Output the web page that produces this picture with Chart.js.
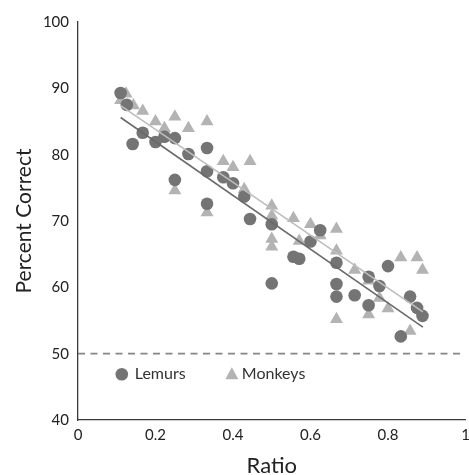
<!DOCTYPE html>
<html>
<head>
<meta charset="utf-8">
<script src="https://cdn.jsdelivr.net/npm/chart.js@4"></script>
<style>
  body { margin: 0; background: #fff; }
  #wrap { width: 469px; height: 475px; }
</style>
</head>
<body>
<div id="wrap"><canvas id="ratioChart" width="469" height="475"></canvas></div>
<script>
// values
const lemurRatio = [0.11, 0.126, 0.141, 0.167, 0.2, 0.223, 0.25, 0.25, 0.285, 0.333, 0.333, 0.333,
  0.375, 0.4, 0.429, 0.444, 0.5, 0.5, 0.556, 0.571, 0.6, 0.625, 0.667, 0.667, 0.667,
  0.714, 0.75, 0.75, 0.778, 0.8, 0.833, 0.857, 0.875, 0.889];
const lemurCorrect = [89.3, 87.5, 81.6, 83.3, 81.9, 82.7, 82.5, 76.2, 80.1, 81.0, 77.5, 72.6,
  76.6, 75.7, 73.7, 70.3, 69.5, 60.6, 64.6, 64.3, 66.9, 68.6, 63.7, 60.5, 58.6,
  58.8, 61.6, 57.3, 60.2, 63.2, 52.6, 58.6, 56.9, 55.7];

const monkeyRatio = [0.11, 0.124, 0.143, 0.167, 0.2, 0.223, 0.25, 0.25, 0.285, 0.333, 0.333,
  0.375, 0.4, 0.429, 0.444, 0.5, 0.5, 0.5, 0.5, 0.556, 0.571, 0.6, 0.625, 0.667, 0.667, 0.667,
  0.714, 0.75, 0.75, 0.778, 0.8, 0.833, 0.857, 0.875, 0.889];
const monkeyCorrect = [88.2, 89.2, 87.4, 86.6, 85.0, 84.0, 85.7, 74.6, 84.0, 85.0, 71.3,
  79.0, 78.1, 74.8, 79.0, 72.3, 70.8, 67.3, 66.1, 70.4, 67.0, 69.5, 67.8, 68.8, 65.5, 55.2,
  62.6, 61.0, 55.9, 58.4, 56.8, 64.5, 53.4, 64.5, 62.6];

const lemurTrendX = [0.11, 0.89];
const lemurTrendY = [85.6, 54.0];
const monkeyTrendX = [0.11, 0.89];
const monkeyTrendY = [87.4, 56.3];

const chanceX = [0, 1];
const chanceY = [50, 50];

const xTicks = [0, 0.2, 0.4, 0.6, 0.8, 1];
const yTicks = [40, 50, 60, 70, 80, 90, 100];

const darkGray = '#747474';
const lightGray = '#b3b3b3';
const fontFamily = 'Lato, "Open Sans", sans-serif';

function toPoints(xs, ys) {
    return xs.map((x, i) => ({ x: x, y: ys[i] }));
}

// legend sits inside the plot, drawn in data coordinates
const innerLegend = {
    id: 'innerLegend',
    afterDatasetsDraw(chart) {
        const ctx = chart.ctx;
        const xs = chart.scales.x, ys = chart.scales.y;
        const y = ys.getPixelForValue(46.9);
        const x1 = xs.getPixelForValue(0.113);
        const x2 = xs.getPixelForValue(0.397);
        ctx.save();
        ctx.fillStyle = darkGray;
        ctx.beginPath();
        ctx.arc(x1, y, 6.3, 0, Math.PI * 2);
        ctx.fill();
        ctx.fillStyle = lightGray;
        ctx.beginPath();
        ctx.moveTo(x2, y - 7);
        ctx.lineTo(x2 + 6.5, y + 5);
        ctx.lineTo(x2 - 6.5, y + 5);
        ctx.closePath();
        ctx.fill();
        ctx.fillStyle = '#333';
        ctx.font = '16px ' + fontFamily;
        ctx.textBaseline = 'middle';
        ctx.fillText('Lemurs', x1 + 13, y);
        ctx.fillText('Monkeys', x2 + 10, y);
        ctx.restore();
    }
};

const ctx = document.getElementById('ratioChart').getContext('2d');
new Chart(ctx, {
    type: 'scatter',
    data: {
        datasets: [
            {
                label: 'chance',
                type: 'line',
                data: toPoints(chanceX, chanceY),
                borderColor: '#858585',
                borderWidth: 1.6,
                borderDash: [7, 5.5],
                pointRadius: 0,
                fill: false,
                order: 5
            },
            {
                label: 'Monkeys',
                data: toPoints(monkeyRatio, monkeyCorrect),
                pointStyle: 'triangle',
                pointRadius: 7.5,
                backgroundColor: lightGray,
                borderWidth: 0,
                order: 4
            },
            {
                label: 'Lemurs',
                data: toPoints(lemurRatio, lemurCorrect),
                pointStyle: 'circle',
                pointRadius: 6.3,
                backgroundColor: darkGray,
                borderWidth: 0,
                order: 3
            },
            {
                label: 'Monkeys trend',
                type: 'line',
                data: toPoints(monkeyTrendX, monkeyTrendY),
                borderColor: '#bdbdbd',
                borderWidth: 1.6,
                pointRadius: 0,
                fill: false,
                order: 2
            },
            {
                label: 'Lemurs trend',
                type: 'line',
                data: toPoints(lemurTrendX, lemurTrendY),
                borderColor: '#6a6a6a',
                borderWidth: 1.6,
                pointRadius: 0,
                fill: false,
                order: 1
            }
        ]
    },
    options: {
        responsive: false,
        animation: false,
        layout: {
            autoPadding: false,
            padding: { top: 22, right: 3.5, left: 0, bottom: 0 }
        },
        plugins: {
            legend: { display: false },
            tooltip: { enabled: false }
        },
        scales: {
            x: {
                type: 'linear',
                min: 0,
                max: 1,
                afterBuildTicks: (axis) => { axis.ticks = xTicks.map(v => ({ value: v })); },
                afterFit: (axis) => {
                    axis.height = 55;
                    axis.paddingRight = 0;
                },
                grid: { display: false, drawTicks: false },
                border: { display: true, color: '#3a3a3a', width: 1.3 },
                ticks: {
                    color: '#222',
                    padding: 6,
                    font: { family: fontFamily, size: 15 },
                    callback: (v) => String(v)
                },
                title: {
                    display: true,
                    text: 'Ratio',
                    color: '#222',
                    font: { family: fontFamily, size: 22, lineHeight: 0.8 },
                    padding: { top: 0, bottom: 0 }
                }
            },
            y: {
                min: 40,
                max: 100,
                afterBuildTicks: (axis) => { axis.ticks = yTicks.map(v => ({ value: v })); },
                afterFit: (axis) => { axis.width = 78; },
                grid: { display: false, drawTicks: false },
                border: { display: true, color: '#3a3a3a', width: 1.3 },
                ticks: {
                    color: '#222',
                    padding: 9,
                    font: { family: fontFamily, size: 15 }
                },
                title: {
                    display: true,
                    text: 'Percent Correct',
                    color: '#222',
                    font: { family: fontFamily, size: 21 },
                    padding: { top: 12, bottom: 0 }
                }
            }
        }
    },
    plugins: [innerLegend]
});
</script>
</body>
</html>
